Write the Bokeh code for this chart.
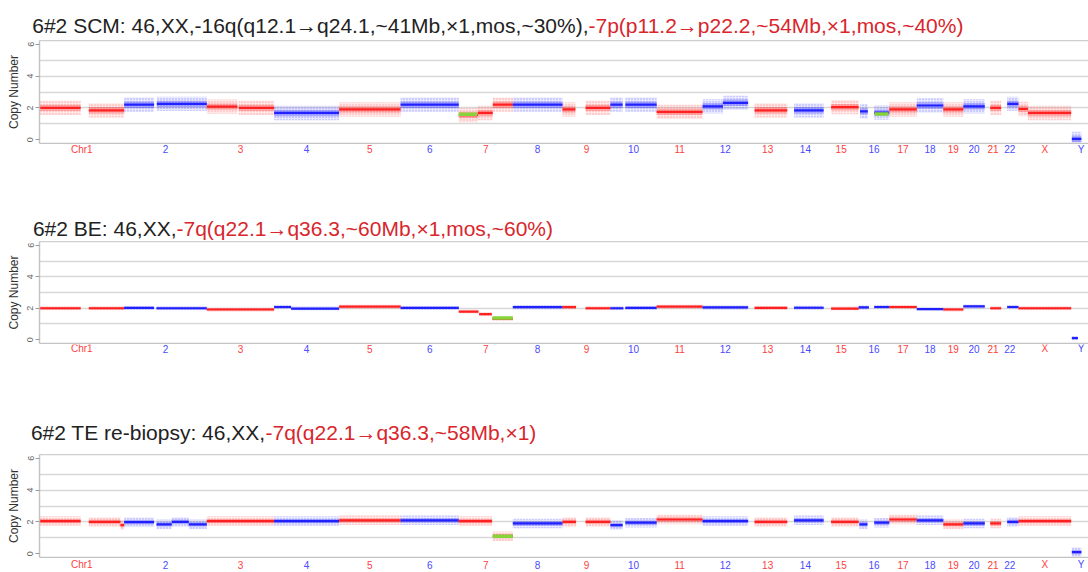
import numpy as np
from bokeh.plotting import figure
from bokeh.models import ColumnDataSource, FixedTicker, LinearAxis, Range1d
from bokeh.core.properties import value
from bokeh.layouts import column
from bokeh.embed import file_html
from bokeh.resources import INLINE

# ---------------- data ----------------
CHROM_LABELS = ["Chr1", "2", "3", "4", "5", "6", "7", "8", "9", "10", "11", "12",
                "13", "14", "15", "16", "17", "18", "19", "20", "21", "22", "X", "Y"]
CHROM_LEN_MB = [249, 243, 198, 191, 181, 171, 159, 146, 141, 136, 135, 134,
                115, 107, 103, 90, 81, 78, 59, 63, 48, 51, 155, 59]

# segments: (chromosome label, start Mb, end Mb, copy number)
SCM_SEGMENTS = [
    ("Chr1", 0, 121, 2.0), ("Chr1", 145, 249, 1.85),
    ("2", 0, 88, 2.2), ("2", 96, 243, 2.25),
    ("3", 0, 90, 2.08), ("3", 94, 198, 2.0),
    ("4", 0, 191, 1.68), ("5", 0, 181, 1.9), ("6", 0, 171, 2.2),
    ("7", 0, 56, 1.55), ("7", 56, 100, 1.68), ("7", 100, 159, 2.2),
    ("8", 0, 146, 2.2), ("9", 0, 38, 1.9), ("9", 68, 141, 2.0),
    ("10", 0, 36, 2.2), ("10", 44, 136, 2.2), ("11", 0, 135, 1.75),
    ("12", 0, 60, 2.1), ("12", 60, 134, 2.32), ("13", 19, 115, 1.85),
    ("14", 20, 107, 1.85), ("15", 22, 103, 2.05),
    ("16", 4, 27, 1.78), ("16", 46, 90, 1.7), ("17", 0, 81, 1.9),
    ("18", 0, 78, 2.15), ("19", 0, 59, 1.9), ("20", 0, 63, 2.1),
    ("21", 16, 48, 2.0), ("22", 18, 51, 2.25),
    ("X", 0, 28, 1.93), ("X", 28, 155, 1.68), ("Y", 2, 30, 0.05),
]
BE_SEGMENTS = [
    ("Chr1", 0, 121, 2.0), ("Chr1", 145, 249, 2.0),
    ("2", 0, 88, 2.02), ("2", 95, 243, 2.0),
    ("3", 0, 198, 1.92), ("4", 0, 50, 2.08), ("4", 50, 191, 1.98),
    ("5", 0, 181, 2.1), ("6", 0, 171, 2.02),
    ("7", 0, 58, 1.78), ("7", 60, 97, 1.62), ("7", 99, 159, 1.33),
    ("8", 0, 146, 2.07), ("9", 0, 40, 2.07), ("9", 68, 141, 2.0),
    ("10", 0, 38, 2.0), ("10", 44, 136, 2.02), ("11", 0, 135, 2.1),
    ("12", 0, 134, 2.05), ("13", 19, 115, 2.02), ("14", 20, 107, 2.03),
    ("15", 22, 103, 1.98), ("16", 0, 30, 2.05), ("16", 46, 90, 2.08),
    ("17", 0, 81, 2.08), ("18", 0, 78, 1.95), ("19", 0, 59, 1.92),
    ("20", 0, 63, 2.12), ("21", 16, 48, 2.0), ("22", 18, 51, 2.08),
    ("X", 0, 155, 2.0), ("Y", 2, 20, 0.1),
]
TE_SEGMENTS = [
    ("Chr1", 0, 121, 2.05), ("Chr1", 145, 238, 2.0), ("Chr1", 238, 249, 1.8),
    ("2", 0, 88, 1.98), ("2", 95, 140, 1.85), ("2", 140, 190, 2.0), ("2", 190, 243, 1.85),
    ("3", 0, 198, 2.05), ("4", 0, 191, 2.05), ("5", 0, 181, 2.1),
    ("6", 0, 171, 2.1), ("7", 0, 98, 2.05), ("7", 100, 159, 1.1),
    ("8", 0, 146, 1.9), ("9", 0, 40, 2.0), ("9", 68, 141, 2.0),
    ("10", 0, 36, 1.8), ("10", 44, 136, 1.95), ("11", 0, 135, 2.15),
    ("12", 0, 134, 2.05), ("13", 19, 115, 2.0), ("14", 20, 107, 2.1),
    ("15", 22, 103, 2.0), ("16", 2, 26, 1.85), ("16", 46, 90, 1.95),
    ("17", 0, 81, 2.15), ("18", 0, 78, 2.1), ("19", 0, 59, 1.85),
    ("20", 0, 63, 1.9), ("21", 16, 48, 1.9), ("22", 18, 51, 2.0),
    ("X", 0, 155, 2.05), ("Y", 2, 30, 0.1),
]
# called copy-number changes (green)
SCM_CALLS = [("7", 0, 54, 1.6), ("16", 47, 88, 1.62)]
BE_CALLS = [("7", 99, 159, 1.38)]
TE_CALLS = [("7", 100, 159, 1.1)]

# typical scatter half-width of the probe values around each segment
SCM_SPREAD = 0.45
BE_SPREAD = 0.13
TE_SPREAD = 0.3

TITLES = [
    ("6#2 SCM: 46,XX,-16q(q12.1\u2192q24.1,~41Mb,\u00d71,mos,~30%),",
     "-7p(p11.2\u2192p22.2,~54Mb,\u00d71,mos,~40%)"),
    ("6#2 BE: 46,XX,", "-7q(q22.1\u2192q36.3,~60Mb,\u00d71,mos,~60%)"),
    ("6#2 TE re-biopsy: 46,XX,", "-7q(q22.1\u2192q36.3,~58Mb,\u00d71)"),
]

# ---------------- styling / helpers ----------------
FONT = "Liberation Sans"
RED = "#ff1a1a"
BLUE = "#1a1aff"
LAB_RED = "#ff4040"
LAB_BLUE = "#4a4aff"
GREEN = "#86d43a"
TITLE_RED = "#d8262c"
W = 1088
LEFT = 39
GENOME_RANGE = Range1d(0, 3085)

offsets = np.concatenate([[0], np.cumsum(CHROM_LEN_MB)[:-1]])
chrom_index = {c: i for i, c in enumerate(CHROM_LABELS)}
chrom_color = [RED if i % 2 == 0 else BLUE for i in range(len(CHROM_LABELS))]
label_color = [LAB_RED if i % 2 == 0 else LAB_BLUE for i in range(len(CHROM_LABELS))]
centers = offsets + np.array(CHROM_LEN_MB) / 2.0


def bare(height, x_range, left, align=True):
    p = figure(width=W, height=height, x_range=x_range, y_range=Range1d(0, height),
               toolbar_location=None, output_backend="svg",
               x_axis_type=None, y_axis_type=None, frame_align=align,
               min_border_left=left, min_border_right=0, min_border_top=0,
               min_border_bottom=0, outline_line_color=None)
    p.grid.visible = False
    return p


def title_fig(title, height, baseline, junction):
    # x range in page pixels (frame spans the whole width)
    p = bare(height, Range1d(0, W), 0, align=False)
    black, red = title
    p.text(x=[junction], y=[height - baseline], text=[black], text_align="right",
           text_baseline="alphabetic", text_font=value(FONT),
           text_font_size="21px", text_color="#222222")
    p.text(x=[junction], y=[height - baseline], text=[red], text_align="left",
           text_baseline="alphabetic", text_font=value(FONT),
           text_font_size="21px", text_color=TITLE_RED)
    return p


def label_fig(height, center_from_top):
    p = bare(height, GENOME_RANGE, LEFT)
    src = ColumnDataSource(dict(x=centers, y=[height - center_from_top] * len(centers),
                                text=CHROM_LABELS, color=label_color))
    p.text(x="x", y="y", text="text", source=src, text_color="color",
           text_font=value(FONT), text_font_size="10px",
           text_align="center", text_baseline="middle")
    return p


def seg_source(segments, half):
    x0, x1, cn, col = [], [], [], []
    for c, s, e, v in segments:
        i = chrom_index[c]
        x0.append(offsets[i] + s)
        x1.append(offsets[i] + e)
        cn.append(v)
        col.append(chrom_color[i])
    cn = np.array(cn)
    return ColumnDataSource(dict(left=x0, right=x1, bottom=cn - half, top=cn + half,
                                 color=col))


def plot_fig(segments, calls, spread, height):
    p = figure(width=W, height=height, x_range=GENOME_RANGE,
               y_range=Range1d(-0.24, 6.24), toolbar_location=None,
               output_backend="svg", min_border_left=LEFT, min_border_right=0,
               min_border_top=0, min_border_bottom=1,
               outline_line_color=None, background_fill_color="white")
    p.xaxis.ticker = FixedTicker(ticks=[])
    p.xaxis.axis_line_color = "#c4c4c4"
    p.xaxis.axis_line_width = 1.5
    p.xaxis.major_tick_out = 0
    p.xaxis.major_tick_in = 0
    p.xaxis.major_label_standoff = 0
    p.xaxis.major_tick_line_color = None
    p.xaxis.minor_tick_line_color = None
    p.yaxis.ticker = FixedTicker(ticks=[0, 2, 4, 6])
    p.yaxis.major_label_orientation = "vertical"
    p.yaxis.major_label_text_font_size = "9px"
    p.yaxis.major_label_text_font = FONT
    p.yaxis.major_label_text_color = "#666666"
    p.yaxis.major_label_standoff = 2
    p.yaxis.major_tick_out = 4
    p.yaxis.major_tick_in = 0
    p.yaxis.major_tick_line_color = "#9a9a9a"
    p.yaxis.minor_tick_line_color = None
    p.yaxis.axis_line_color = "#c4c4c4"
    p.yaxis.axis_line_width = 1.5
    p.yaxis.axis_label = "Copy Number"
    p.yaxis.axis_label_text_font = FONT
    p.yaxis.axis_label_text_font_size = "12px"
    p.yaxis.axis_label_text_font_style = "normal"
    p.yaxis.axis_label_text_color = "#333333"
    p.yaxis.axis_label_standoff = 4
    top_axis = LinearAxis(ticker=FixedTicker(ticks=[]), axis_line_color="#cfcfcf",
                          axis_line_width=1.5, major_tick_line_color=None,
                          minor_tick_line_color=None, major_tick_out=0,
                          major_tick_in=0, major_label_standoff=0)
    p.add_layout(top_axis, "above")
    p.xgrid.visible = False
    p.ygrid.ticker = FixedTicker(ticks=[1, 2, 3, 4, 5])
    p.ygrid.grid_line_color = "#d8d8d8"
    p.ygrid.grid_line_width = 1.5

    # probe clouds: sparse outer band, denser inner band, dense core
    p.quad(left="left", right="right", bottom="bottom", top="top",
           source=seg_source(segments, spread), fill_color="color", fill_alpha=0.10,
           line_color=None, hatch_pattern="dot", hatch_color="color",
           hatch_alpha=0.35, hatch_scale=3)
    p.quad(left="left", right="right", bottom="bottom", top="top",
           source=seg_source(segments, spread * 0.45), fill_color="color",
           fill_alpha=0.30, line_color=None)
    p.quad(left="left", right="right", bottom="bottom", top="top",
           source=seg_source(segments, 0.07), fill_color="color",
           fill_alpha=0.95, line_color=None)

    cx0, cx1, cy = [], [], []
    for c, s, e, v in calls:
        i = chrom_index[c]
        cx0.append(offsets[i] + s)
        cx1.append(offsets[i] + e)
        cy.append(v)
    p.segment(x0=cx0, x1=cx1, y0=cy, y1=cy, line_color=GREEN, line_width=3.5)
    return p


figs = [
    title_fig(TITLES[0], 40, 25, 588),
    plot_fig(SCM_SEGMENTS, SCM_CALLS, SCM_SPREAD, 104),
    label_fig(44, 4.5),
    title_fig(TITLES[1], 53, 40, 176),
    plot_fig(BE_SEGMENTS, BE_CALLS, BE_SPREAD, 103),
    label_fig(52, 4),
    title_fig(TITLES[2], 58, 36, 265),
    plot_fig(TE_SEGMENTS, TE_CALLS, TE_SPREAD, 104),
    label_fig(14, 6),
]

layout = column(*figs)
open("out.html", "w").write(file_html(layout, INLINE))
